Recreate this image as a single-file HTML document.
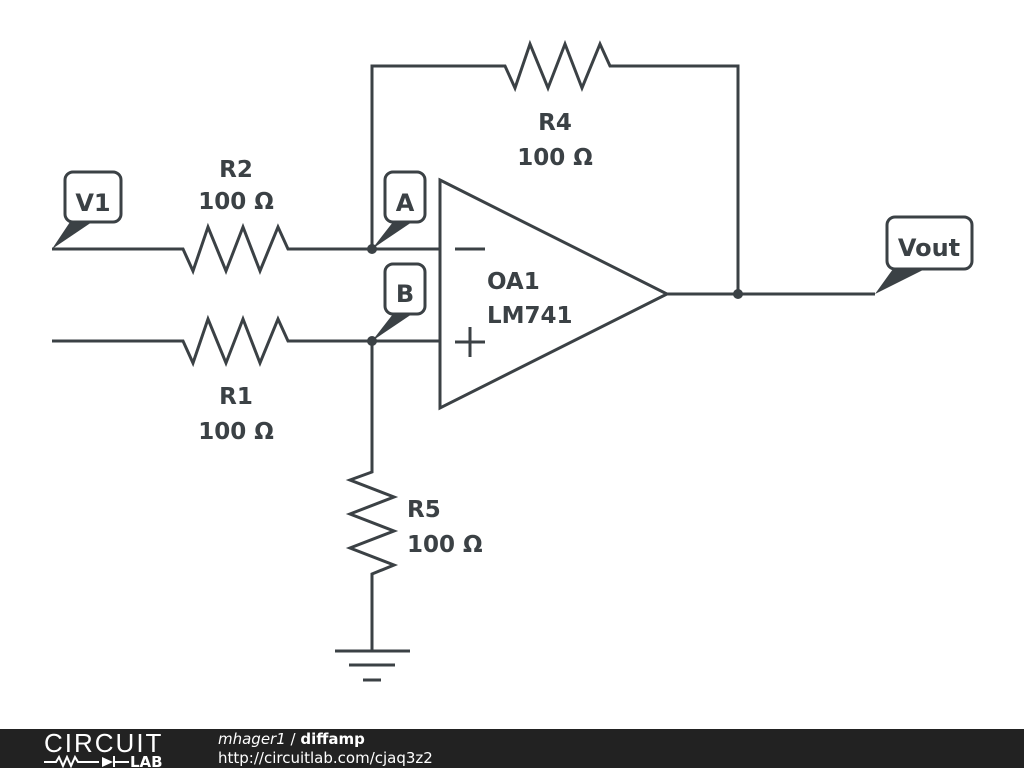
<!DOCTYPE html>
<html><head><style>
body{margin:0;width:1024px;height:768px;background:#fff;overflow:hidden;position:relative;font-family:"DejaVu Sans","Liberation Sans",sans-serif}
#foot{position:absolute;left:0;top:729px;width:1024px;height:39px;background:#222;color:#fff}
</style></head><body>
<svg width="1024" height="729" style="position:absolute;left:0;top:0">
<g fill="none" stroke="#3b4145" stroke-width="3" stroke-linejoin="miter">
<polyline points="52,249 183,249 193,271 208,227 226,271 243,227 260,271 278,227 288,249 440,249"/>
<polyline points="52,341 183,341 193,363 208,319 226,363 243,319 260,363 278,319 288,341 440,341"/>
<polyline points="372,249 372,66 505,66 515,88 530,44 548,88 565,44 582,88 600,44 610,66 738,66 738,294"/>
<polyline points="667,294 875,294"/>
<polyline points="372,341 372,472 350,480 394,497 350,514 394,531 350,548 394,565 372,574 372,651"/>
<line x1="335" y1="651" x2="410" y2="651"/>
<line x1="349" y1="665" x2="395" y2="665"/>
<line x1="363" y1="680" x2="381" y2="680"/>
<polygon points="440,180 667,294 440,408"/>
<line x1="455" y1="249" x2="485" y2="249"/>
<line x1="455" y1="342" x2="485" y2="342"/>
<line x1="470" y1="327" x2="470" y2="357"/>
<rect x="65" y="172" width="56" height="50" rx="8" fill="#fff"/>
<rect x="385" y="172" width="40" height="50" rx="8" fill="#fff"/>
<rect x="385" y="264" width="40" height="50" rx="8" fill="#fff"/>
<rect x="887" y="217" width="85" height="52" rx="8" fill="#fff"/>
</g>
<g fill="#3b4145">
<polygon points="52,249 70,222 92,222"/>
<polygon points="372,249 393,222 412,222"/>
<polygon points="372,341 393,314 412,314"/>
<polygon points="875,294 893,269 925,269"/>
<circle cx="372" cy="249" r="5"/><circle cx="372" cy="341" r="5"/><circle cx="738" cy="294" r="5"/>
</g>
<g fill="#3b4145" font-family="DejaVu Sans, sans-serif" font-weight="bold" font-size="23">
<text x="93" y="211" text-anchor="middle" font-size="24">V1</text>
<text x="405" y="211" text-anchor="middle" font-size="24">A</text>
<text x="405" y="302" text-anchor="middle" font-size="24">B</text>
<text x="929" y="256" text-anchor="middle" font-size="24">Vout</text>
<text x="236" y="177" text-anchor="middle">R2</text>
<text x="236" y="209" text-anchor="middle">100 Ω</text>
<text x="236" y="404" text-anchor="middle">R1</text>
<text x="236" y="439" text-anchor="middle">100 Ω</text>
<text x="555" y="130" text-anchor="middle">R4</text>
<text x="555" y="165" text-anchor="middle">100 Ω</text>
<text x="407" y="517">R5</text>
<text x="407" y="552">100 Ω</text>
<text x="487" y="289">OA1</text>
<text x="487" y="323">LM741</text>
</g>
</svg>
<div id="foot">
<div style="position:absolute;left:44px;top:1px;font-size:26px;letter-spacing:2px;font-family:'Liberation Sans',sans-serif;line-height:26px">CIRCUIT</div>
<svg style="position:absolute;left:44px;top:26px" width="130" height="13"><g stroke="#fff" stroke-width="2" fill="none"><polyline points="0,7 12,7 15,2 19,11 23,2 27,11 31,2 34,7 55,7"/><line x1="70" y1="1" x2="70" y2="12"/><line x1="70" y1="7" x2="85" y2="7"/></g><polygon points="58,2 58,12 69,7" fill="#fff"/><text x="86" y="12" fill="#fff" font-weight="bold" font-size="15" font-family="DejaVu Sans">LAB</text></svg>
<div style="position:absolute;left:218px;top:1px;font-size:15px;line-height:18px"><i>mhager1</i> / <b>diffamp</b></div>
<div style="position:absolute;left:218px;top:20px;font-size:15px;line-height:18px">http://circuitlab.com/cjaq3z2</div>
</div>
</body></html>
